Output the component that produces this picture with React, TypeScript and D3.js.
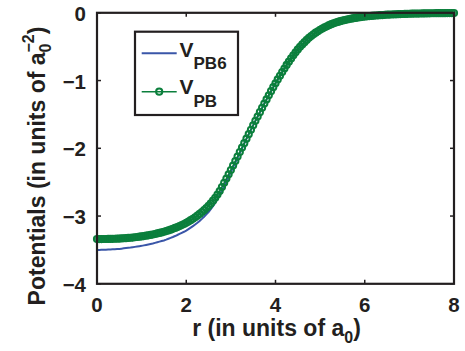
import React from "react";
import * as d3 from "d3";

// radial grid, 0 .. 8 a0 in steps of 0.05
const rStep = 0.05;

// V_PB (with circle markers)
const vPB = [
  -3.340, -3.340, -3.340, -3.339, -3.339, -3.338, -3.337, -3.336, -3.335, -3.334,
  -3.332, -3.330, -3.328, -3.326, -3.323, -3.320, -3.317, -3.313, -3.309, -3.305,
  -3.300, -3.295, -3.290, -3.284, -3.278, -3.272, -3.265, -3.257, -3.249, -3.241,
  -3.232, -3.222, -3.212, -3.201, -3.189, -3.176, -3.162, -3.148, -3.133, -3.117,
  -3.100, -3.081, -3.061, -3.040, -3.018, -2.995, -2.969, -2.942, -2.913, -2.882,
  -2.850, -2.813, -2.773, -2.730, -2.682, -2.630, -2.571, -2.510, -2.447, -2.384,
  -2.320, -2.254, -2.188, -2.122, -2.056, -1.990, -1.924, -1.858, -1.792, -1.726,
  -1.660, -1.595, -1.531, -1.467, -1.403, -1.340, -1.278, -1.217, -1.157, -1.098,
  -1.040, -0.984, -0.929, -0.875, -0.822, -0.770, -0.721, -0.674, -0.628, -0.583,
  -0.540, -0.502, -0.467, -0.433, -0.401, -0.370, -0.343, -0.318, -0.294, -0.272,
  -0.250, -0.232, -0.215, -0.199, -0.183, -0.168, -0.156, -0.145, -0.134, -0.124,
  -0.115, -0.107, -0.100, -0.093, -0.086, -0.080, -0.075, -0.069, -0.064, -0.060,
  -0.055, -0.052, -0.049, -0.046, -0.043, -0.040, -0.038, -0.035, -0.033, -0.030,
  -0.028, -0.026, -0.025, -0.023, -0.022, -0.020, -0.019, -0.018, -0.016, -0.015,
  -0.014, -0.013, -0.012, -0.012, -0.011, -0.010, -0.009, -0.009, -0.008, -0.008,
  -0.007, -0.007, -0.006, -0.006, -0.005, -0.005, -0.005, -0.004, -0.004, -0.004,
  -0.003,
];

// V_PB6 for r = 0 .. 3.30; beyond that it coincides with V_PB
const vPB6Inner = [
  -3.500, -3.500, -3.499, -3.498, -3.497, -3.495, -3.493, -3.491, -3.489, -3.487,
  -3.485, -3.481, -3.477, -3.473, -3.469, -3.465, -3.460, -3.455, -3.450, -3.445,
  -3.440, -3.433, -3.426, -3.419, -3.412, -3.405, -3.396, -3.387, -3.378, -3.369,
  -3.360, -3.348, -3.335, -3.322, -3.309, -3.295, -3.280, -3.264, -3.248, -3.232,
  -3.215, -3.194, -3.172, -3.149, -3.125, -3.100, -3.072, -3.042, -3.010, -2.976,
  -2.940, -2.898, -2.853, -2.803, -2.749, -2.690, -2.625, -2.557, -2.488, -2.419,
  -2.350, -2.280, -2.210, -2.140, -2.070, -2.000, -1.930,
];
const vPB6 = vPB6Inner.concat(vPB.slice(vPB6Inner.length));

const xTicks = [0, 2, 4, 6, 8];
const yTicks = [0, -1, -2, -3, -4];

const W = 465;
const H = 351;
const left = 97;
const right = 454;
const top = 12.8;
const bottom = 283.8;

const green = "#0b7f3c";
const blue = "#3a56a8";
const ink = "#231f20";
const font = "'Liberation Sans', Arial, Helvetica, sans-serif";

export default function App() {
  const x = d3.scaleLinear().domain([0, 8]).range([left, right]);
  const y = d3.scaleLinear().domain([-4, 0]).range([bottom, top]);

  const ptsPB = vPB.map((v, i) => [i * rStep, v] as [number, number]);
  const ptsPB6 = vPB6.map((v, i) => [i * rStep, v] as [number, number]);

  const line = d3
    .line<[number, number]>()
    .x((d) => x(d[0]))
    .y((d) => y(d[1]));

  const tickLen = 4;
  const fmt = (v: number) => (v < 0 ? "\u2212" + Math.abs(v) : String(v));

  return (
    <svg
      width={W}
      height={H}
      style={{ position: "fixed", left: 0, top: 0, background: "#fff" }}
      fontFamily={font}
      fontWeight="bold"
    >
      {/* data curves */}
      <path d={line(ptsPB6) || ""} fill="none" stroke={blue} strokeWidth={2} />
      <path d={line(ptsPB) || ""} fill="none" stroke={green} strokeWidth={1.6} />
      {ptsPB.map((d, i) => (
        <circle
          key={i}
          cx={x(d[0])}
          cy={y(d[1])}
          r={3.1}
          fill="none"
          stroke={green}
          strokeWidth={2}
        />
      ))}

      {/* axes box with inward ticks on all four sides */}
      <rect
        x={left}
        y={top}
        width={right - left}
        height={bottom - top}
        fill="none"
        stroke={ink}
        strokeWidth={2.2}
      />
      {xTicks.map((t) => (
        <g key={"xt" + t}>
          <line x1={x(t)} x2={x(t)} y1={bottom} y2={bottom - tickLen} stroke={ink} strokeWidth={1.5} />
          <line x1={x(t)} x2={x(t)} y1={top} y2={top + tickLen} stroke={ink} strokeWidth={1.5} />
          <text x={x(t)} y={311.7} textAnchor="middle" fontSize={20.5} fill={ink}>
            {fmt(t)}
          </text>
        </g>
      ))}
      {yTicks.map((t) => (
        <g key={"yt" + t}>
          <line x1={left} x2={left + tickLen} y1={y(t)} y2={y(t)} stroke={ink} strokeWidth={1.5} />
          <line x1={right} x2={right - tickLen} y1={y(t)} y2={y(t)} stroke={ink} strokeWidth={1.5} />
          <text x={86} y={y(t) + 8} textAnchor="end" fontSize={20.5} fill={ink}>
            {fmt(t)}
          </text>
        </g>
      ))}

      {/* x axis label */}
      <text x={(left + right) / 2 + 1} y={336} textAnchor="middle" fontSize={23} fill={ink}>
        r (in units of a
        <tspan fontSize={16} dy={7}>0</tspan>
        <tspan dy={-7}>)</tspan>
      </text>

      {/* y axis label */}
      <text
        transform={`translate(45, 166) rotate(-90)`}
        textAnchor="middle"
        fontSize={23}
        fill={ink}
      >
        Potentials (in units of a
        <tspan fontSize={16} dy={6}>0</tspan>
        <tspan fontSize={16} dx={-9} dy={-17}>{"\u22122"}</tspan>
        <tspan dy={11}>)</tspan>
      </text>

      {/* legend */}
      <g>
        <rect x={135} y={31.7} width={103} height={83.3} fill="#fff" stroke={ink} strokeWidth={2.2} />
        <line x1={141.7} x2={176.7} y1={53.3} y2={53.3} stroke={blue} strokeWidth={2} />
        <text x={179.5} y={56.7} fontSize={21} fill={ink}>
          V<tspan fontSize={17} dy={12.6}>PB6</tspan>
        </text>
        <line x1={141.7} x2={176.7} y1={91.7} y2={91.7} stroke={green} strokeWidth={1.6} />
        <circle cx={159.2} cy={91.7} r={3.1} fill="none" stroke={green} strokeWidth={2} />
        <text x={179.5} y={94.3} fontSize={21} fill={ink}>
          V<tspan fontSize={17} dy={13}>PB</tspan>
        </text>
      </g>
    </svg>
  );
}
